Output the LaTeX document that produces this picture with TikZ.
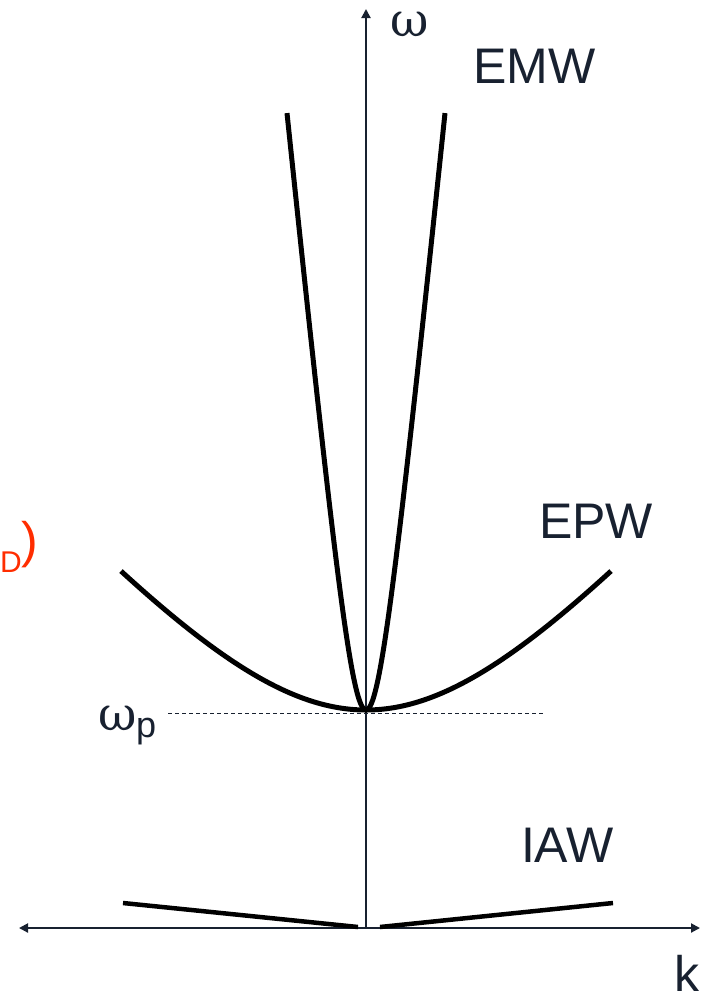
\documentclass[tikz,border=0pt]{standalone}
\usepackage{fontspec}
\setmainfont{Liberation Sans}
\newfontfamily\omfont{DejaVu Serif}
\usetikzlibrary{arrows.meta}
\definecolor{ink}{RGB}{24,33,48}
\definecolor{redlab}{RGB}{255,45,0}
\begin{document}
\begin{tikzpicture}[x=1pt,y=-1pt,
  axisline/.style={draw=ink, line width=2pt},
  curve/.style={line width=5pt, black, line join=round},
  lab/.style={inner sep=0pt, outer sep=0pt, text=ink, anchor=base west, font=\fontsize{50}{60}\selectfont},
  omlab/.style={inner sep=0pt, outer sep=0pt, text=ink, anchor=base west, font=\omfont\fontsize{47}{56}\selectfont},
  guide/.style={draw=ink, line width=1pt, dash pattern=on 4pt off 3pt}]
\useasboundingbox (0,0) rectangle (705,997);
% axes
\coordinate (O) at (366,928);
\coordinate (L) at (19,928);
\coordinate (R) at (700,928);
\coordinate (T) at (366,9);
\draw[axisline, -{Triangle[length=9pt,width=9pt]}] (O) -- (T);
\draw[axisline, {Triangle[length=9pt,width=9pt]}-{Triangle[length=9pt,width=9pt]}] (L) -- (R);
% omega_p guide
\coordinate (d1) at (168,713);
\coordinate (d2) at (545,713);
\draw[guide] (d1) -- (d2);
% EMW branch
\draw[curve] plot[domain=-79:79, samples=121, smooth] ({366+\x},{928-100*sqrt(2.18*2.18+(0.0994*\x)*(0.0994*\x))});
% EPW branch
\draw[curve] plot[domain=-245:245, samples=121, smooth] ({366+\x},{928-100*sqrt(2.18*2.18+(0.01153*\x)*(0.01153*\x))});
% IAW branch
\coordinate (ia1) at (123,903);
\coordinate (ia2) at (358,927);
\coordinate (ia3) at (380,927);
\coordinate (ia4) at (613,903);
\draw[line width=4.5pt, black] (ia1) -- (ia2);
\draw[line width=4.5pt, black] (ia3) -- (ia4);
% labels
\node[omlab] (om) at (390,36) {ω};
\node[lab] (emw) at (473,83) {EMW};
\node[lab] (epw) at (539,538) {EPW};
\node[lab] (iaw) at (521,862) {IAW};
\node[lab] (k) at (674,991) {k};
\node[omlab] (omp) at (98,730) {ω};
\node[inner sep=0pt, outer sep=0pt, text=ink, anchor=base west, font=\fontsize{36}{40}\selectfont] (pp) at (136,737) {p};
\node[inner sep=0pt, outer sep=0pt, text=redlab, anchor=base west, font=\fontsize{50}{60}\selectfont] (red) at (0,557) {\raisebox{-15pt}{\fontsize{30}{36}\selectfont D})};
\end{tikzpicture}
\end{document}
